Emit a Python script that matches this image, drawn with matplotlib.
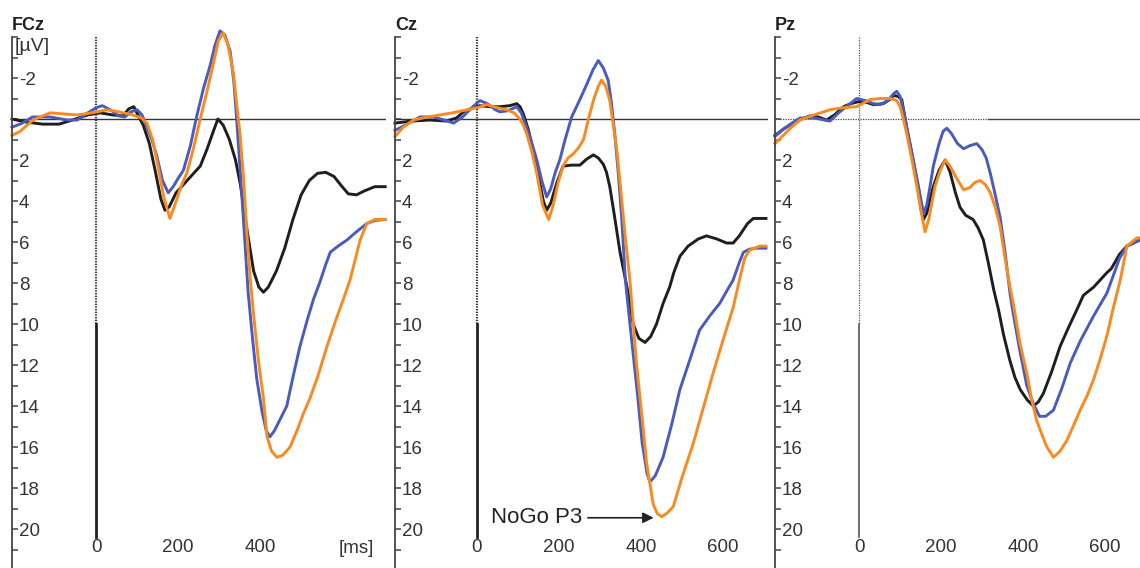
import matplotlib
matplotlib.use('Agg')
import matplotlib.pyplot as plt

plt.rcParams['font.family'] = ['Liberation Sans', 'DejaVu Sans']
plt.rcParams['axes.unicode_minus'] = False

# ---- data (time in ms, amplitude in uV; negative up) ----
# FCz
fcz_black_t = [-205, -170, -130, -90, -50, -20, 10, 40, 65, 80, 92, 102, 115, 130, 145, 158, 168, 178, 195,
               222, 254, 270, 286, 297, 310, 325, 340, 352, 368, 384, 397, 408, 420, 440, 460, 480, 500, 520,
               540, 560, 580, 600, 615, 635, 655, 680, 705]
fcz_black_v = [0.0, 0.15, 0.25, 0.25, 0.0, -0.2, -0.3, -0.2, -0.15, -0.5, -0.6, -0.2, 0.3, 1.2, 2.6, 3.9, 4.45,
               4.3, 3.6, 3.0, 2.3, 1.5, 0.6, 0.0, 0.3, 1.0, 2.0, 3.2, 5.4, 7.4, 8.2, 8.45, 8.2, 7.4, 6.3, 4.9,
               3.7, 3.0, 2.65, 2.6, 2.8, 3.3, 3.65, 3.7, 3.5, 3.3, 3.3]
fcz_blue_t = [-205, -180, -155, -112, -70, -46, -20, 0, 15, 35, 55, 70, 85, 100, 112, 124, 136, 148, 162, 176,
              188, 200, 213, 230, 245, 262, 278, 290, 302, 314, 327, 336, 343, 351, 359, 371, 382, 392, 405,
              415, 424, 435, 450, 465, 480, 497, 515, 530, 545, 560, 571, 590, 612, 635, 660, 680, 705]
fcz_blue_v = [0.4, 0.2, -0.1, -0.1, 0.05, 0.05, -0.3, -0.55, -0.65, -0.45, -0.15, -0.1, -0.35, -0.45, -0.2, 0.4,
              1.0, 1.8, 3.0, 3.6, 3.3, 2.9, 2.5, 1.3, -0.1, -1.5, -2.6, -3.6, -4.3, -4.1, -3.3, -1.8, 0.05, 2.4,
              4.8, 8.5, 10.8, 12.7, 14.3, 15.2, 15.5, 15.2, 14.6, 14.0, 12.6, 11.1, 9.8, 8.8, 8.0, 7.1, 6.5,
              6.2, 5.9, 5.5, 5.1, 4.95, 4.9]
fcz_orange_t = [-205, -185, -154, -130, -112, -80, -46, -10, 27, 55, 90, 110, 124, 138, 151, 165, 180, 192, 207,
                222, 238, 254, 270, 286, 298, 310, 322, 335, 343, 351, 360, 368, 376, 384, 396, 408, 417, 428,
                441, 455, 473, 490, 505, 522, 540, 563, 583, 603, 620, 644, 660, 680, 705]
fcz_orange_v = [0.8, 0.6, 0.05, -0.15, -0.3, -0.25, -0.2, -0.3, -0.45, -0.35, -0.2, -0.05, 0.2, 1.0, 2.3, 3.8,
                4.85, 4.2, 3.3, 2.6, 1.4, 0.0, -1.3, -2.7, -3.8, -4.2, -3.6, -2.2, -0.7, 0.7, 3.0, 5.6, 7.8, 9.5,
                11.8, 13.6, 15.5, 16.2, 16.5, 16.4, 16.0, 15.2, 14.4, 13.6, 12.6, 11.1, 9.9, 8.8, 7.8, 5.9, 5.1,
                4.9, 4.9]

# Cz
cz_black_t = [-200, -160, -115, -74, -50, -33, -10, 7, 30, 56, 80, 97, 105, 113, 125, 137, 150, 162, 170, 180,
              195, 210, 230, 251, 268, 284, 296, 308, 316, 324, 336, 349, 360, 369, 381, 395, 410, 424, 438,
              454, 470, 480, 495, 515, 540, 560, 585, 609, 625, 640, 660, 674, 705]
cz_black_v = [0.2, 0.1, 0.05, 0.1, -0.05, -0.35, -0.55, -0.65, -0.6, -0.6, -0.65, -0.75, -0.6, -0.25, 0.5, 1.5,
              2.8, 4.0, 4.45, 4.1, 3.1, 2.3, 2.25, 2.25, 1.95, 1.75, 1.9, 2.2, 2.6, 3.3, 4.8, 6.5, 7.6, 8.5,
              10.0, 10.7, 10.9, 10.6, 10.0, 9.0, 8.2, 7.5, 6.7, 6.2, 5.85, 5.7, 5.85, 6.05, 6.05, 5.7, 5.1,
              4.85, 4.85]
cz_blue_t = [-200, -175, -139, -106, -80, -57, -35, -10, 7, 25, 45, 56, 75, 97, 108, 121, 134, 146, 158, 170,
             180, 191, 202, 215, 231, 250, 268, 283, 296, 308, 320, 328, 336, 345, 353, 362, 378, 392, 403, 415,
             422, 435, 454, 475, 495, 520, 543, 568, 592, 609, 625, 640, 650, 665, 682, 705]
cz_blue_v = [0.55, 0.3, -0.1, -0.1, 0.05, 0.2, -0.1, -0.6, -0.9, -0.75, -0.45, -0.35, -0.4, -0.6, -0.3, 0.4,
             1.2, 2.0, 3.0, 3.8, 3.4, 2.6, 2.0, 1.0, -0.1, -0.9, -1.7, -2.4, -2.85, -2.5, -1.9, -0.8, 0.7, 2.7,
             4.8, 7.85, 10.9, 13.5, 15.8, 17.3, 17.7, 17.4, 16.5, 14.9, 13.2, 11.7, 10.3, 9.6, 9.0, 8.4, 7.85,
             7.0, 6.5, 6.35, 6.3, 6.3]
cz_orange_t = [-200, -180, -155, -120, -90, -60, -24, 0, 24, 50, 73, 90, 105, 113, 121, 134, 146, 160, 175, 186,
               198, 210, 222, 235, 248, 260, 272, 284, 296, 304, 314, 324, 332, 341, 350, 361, 373, 389, 403,
               414, 430, 440, 451, 465, 479, 500, 528, 552, 576, 600, 625, 641, 653, 665, 690, 705]
cz_orange_v = [0.85, 0.4, 0.05, -0.1, -0.2, -0.3, -0.45, -0.55, -0.7, -0.55, -0.45, -0.3, 0.0, 0.3, 0.7, 1.6,
               2.65, 4.2, 4.9, 4.2, 3.1, 2.3, 1.9, 1.7, 1.4, 1.0, 0.0, -0.9, -1.6, -1.9, -1.6, -0.9, 0.2, 1.5,
               3.3, 5.6, 7.85, 11.9, 14.6, 16.8, 18.8, 19.25, 19.4, 19.2, 18.9, 17.5, 15.8, 14.1, 12.4, 10.8,
               9.2, 7.8, 6.8, 6.4, 6.2, 6.2]

# Pz
pz_black_t = [-205, -185, -162, -140, -120, -100, -79, -60, -38, -20, -1, 20, 35, 59, 75, 84, 95, 104, 110, 116,
              128, 141, 150, 157, 165, 173, 181, 195, 210, 222, 235, 246, 260, 278, 290, 303, 315, 328, 340,
              352, 368, 380, 393, 410, 425, 437, 449, 470, 490, 510, 531, 547, 572, 604, 615, 635, 653, 685]
pz_black_v = [0.8, 0.5, 0.2, 0.0, -0.15, -0.1, 0.05, -0.2, -0.6, -0.75, -0.85, -0.8, -0.7, -0.75, -0.95, -1.15,
              -1.1, -0.95, -0.3, 0.4, 1.6, 3.0, 4.3, 4.9, 4.6, 3.9, 3.3, 2.5, 2.0, 2.6, 3.6, 4.3, 4.7, 4.9, 5.3,
              5.9, 7.0, 8.3, 9.3, 10.5, 11.8, 12.6, 13.2, 13.7, 14.0, 13.8, 13.4, 12.3, 11.1, 10.2, 9.3, 8.6,
              8.2, 7.5, 7.3, 6.6, 6.2, 5.9]
pz_blue_t = [-205, -185, -160, -144, -110, -71, -50, -25, -6, 15, 35, 51, 70, 85, 92, 100, 108, 116, 124, 135,
             145, 157, 165, 173, 181, 195, 205, 214, 225, 240, 255, 270, 287, 300, 310, 320, 332, 344, 356, 368,
             376, 392, 409, 425, 440, 455, 474, 495, 515, 540, 572, 604, 616, 635, 653, 685]
pz_blue_v = [0.85, 0.5, 0.15, -0.05, -0.05, 0.1, -0.3, -0.7, -1.0, -0.9, -0.75, -0.7, -0.9, -1.25, -1.35, -1.1,
             -0.45, 0.4, 1.2, 2.3, 3.3, 4.6, 4.2, 3.3, 2.3, 1.2, 0.6, 0.45, 0.7, 1.2, 1.45, 1.3, 1.2, 1.5, 1.9,
             2.65, 3.7, 4.8, 6.5, 8.5, 9.5, 11.3, 13.0, 13.9, 14.5, 14.5, 14.2, 13.1, 11.9, 10.8, 9.6, 8.5,
             7.85, 6.8, 6.2, 5.9]
pz_orange_t = [-205, -185, -165, -144, -110, -71, -40, -6, 27, 50, 76, 92, 100, 108, 116, 128, 141, 152, 161,
               170, 185, 198, 210, 222, 238, 255, 270, 282, 295, 308, 320, 332, 344, 356, 368, 376, 392, 409,
               421, 433, 446, 458, 474, 490, 506, 522, 539, 556, 572, 588, 604, 620, 637, 653, 665, 677, 685]
pz_orange_v = [1.2, 0.8, 0.4, 0.05, -0.2, -0.45, -0.55, -0.6, -0.95, -1.0, -1.0, -0.9, -0.6, 0.0, 0.7, 1.9,
               3.3, 4.6, 5.5, 4.9, 3.3, 2.5, 2.0, 2.3, 2.9, 3.45, 3.35, 3.1, 3.0, 3.2, 3.6, 4.3, 5.25, 6.8, 8.2,
               9.0, 10.9, 12.4, 13.7, 14.7, 15.4, 16.0, 16.5, 16.2, 15.7, 15.0, 14.2, 13.5, 12.7, 11.7, 10.6,
               9.2, 7.85, 6.2, 6.0, 5.8, 5.8]

channels = ['FCz', 'Cz', 'Pz']
xtick_vals = [0, 200, 400, 600]
ytick_vals = list(range(-4, 22))

BLACK = '#1e1e1e'
BLUE = '#4a5bbf'
ORANGE = '#f88a1f'

W, H = 1140, 568
fig = plt.figure(figsize=(W / 100, H / 100), dpi=100)

# (left px, width px, xlim)
layout = [(12, 374, (-205, 707)), (395, 373, (-200, 710)), (775, 365, (-205, 685))]
series = [
    [(fcz_black_t, fcz_black_v), (fcz_blue_t, fcz_blue_v), (fcz_orange_t, fcz_orange_v)],
    [(cz_black_t, cz_black_v), (cz_blue_t, cz_blue_v), (cz_orange_t, cz_orange_v)],
    [(pz_black_t, pz_black_v), (pz_blue_t, pz_blue_v), (pz_orange_t, pz_orange_v)],
]
top_px = 37

for i, name in enumerate(channels):
    left, width, xlim = layout[i]
    ax = fig.add_axes([left / W, 0, width / W, (H - top_px) / H])
    ax.set_xlim(*xlim)
    ax.set_ylim(21.9, -4)
    ax.patch.set_alpha(0)

    for s in ['top', 'right', 'bottom']:
        ax.spines[s].set_visible(False)
    ax.spines['left'].set_color('#444444')
    ax.spines['left'].set_linewidth(1.3)

    # reference lines
    if name == 'Pz':
        ax.plot([xlim[0], 315], [0, 0], color='#444444', lw=0.9, ls=(0, (1, 1)))
        ax.plot([315, xlim[1]], [0, 0], color='#444444', lw=1.0)
        ax.plot([0, 0], [-4, 10], color='#555555', lw=0.9, ls=(0, (1, 1)))
        ax.plot([0, 0], [10, 20.4], color='#555555', lw=1.2)
    else:
        ax.axhline(0, color='#333333', lw=1.0)
        ax.plot([0, 0], [-4, 10], color='#333333', lw=1.6, ls=(0, (0.6, 0.6)))
        ax.plot([0, 0], [10, 20.4], color='#222222', lw=2.0)

    for (t, v), c in zip(series[i], [BLACK, BLUE, ORANGE]):
        ax.plot(t, v, color=c, lw=2.1, solid_joinstyle='round', clip_on=False)

    ax.set_yticks(ytick_vals)
    ax.set_yticklabels([str(v) if (v % 2 == 0 and v != 0 and -2 <= v <= 20) else '' for v in ytick_vals])
    ax.tick_params(axis='y', direction='in', length=4, width=1.1, color='#444444', pad=-5,
                   labelsize=13.5, labelcolor='#333333')
    for lab in ax.get_yticklabels():
        lab.set_horizontalalignment('left')

    if name == 'FCz':
        ax.set_xticks(xtick_vals[:3])
        ax.text(635, 20.93, '[ms]', ha='center', va='center', fontsize=13.5, color='#333333')
        ax.text(-199, -3.55, '[µV]', ha='left', va='center', fontsize=14, color='#333333')
    else:
        ax.set_xticks(xtick_vals)
    ax.tick_params(axis='x', length=0, pad=-21, labelsize=13.5, labelcolor='#333333')

    if name == 'Cz':
        ax.annotate('NoGo P3', xy=(431, 19.45), xytext=(257, 19.45), ha='right', va='center',
                    fontsize=16, color='#222222',
                    arrowprops=dict(arrowstyle='-|>', color='#222222', lw=1.2, mutation_scale=16,
                                    shrinkA=2, shrinkB=0))

    fig.text(left / W, 1 - 30 / H, name, fontsize=13, fontweight='bold', color='#222222',
             va='baseline', ha='left')

fig.savefig('out.png', dpi=100)
